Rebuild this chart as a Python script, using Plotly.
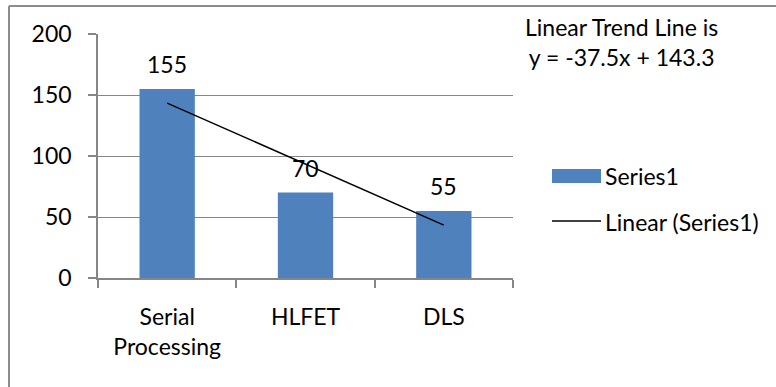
import numpy as np
import plotly.graph_objects as go

# Chart data
categories = ["Serial<br>Processing", "HLFET", "DLS"]
series1 = [155, 70, 55]
y_ticks = [0, 50, 100, 150, 200]
trend_caption = ["Linear Trend Line is", "y = -37.5x + 143.3"]

# Least-squares linear trend over the category index (1, 2, 3)
idx = np.arange(1, len(series1) + 1)
slope, intercept = np.polyfit(idx, series1, 1)
trend = slope * idx + intercept

W, H = 776, 387
PL, PR, PT, PB = 98, 513, 34, 278  # plot-area pixel box
FONT = "Lato"
FS = 23
GRAY = "#868686"
BLUE = "#4F81BD"


def px(x):
    return (x - PL) / (PR - PL)


def py(y):
    return (PB - y) / (PB - PT)


fig = go.Figure()
fig.add_trace(go.Bar(x=categories, y=series1, marker=dict(color=BLUE, line=dict(width=0)),
                     name="Series1", showlegend=False))
fig.add_trace(go.Scatter(x=categories, y=trend, mode="lines", line=dict(color="black", width=1.5),
                         name="Linear (Series1)", showlegend=False))

annotations = []
# value labels above bars
for c, v in zip(categories, series1):
    annotations.append(dict(x=c, y=v, xref="x", yref="y", text=str(v), showarrow=False,
                            yanchor="middle", yshift=25, font=dict(size=FS)))
# trend caption
annotations.append(dict(x=px(621), y=py(42), xref="paper", yref="paper",
                        text="<br>".join(trend_caption), showarrow=False,
                        xanchor="center", yanchor="middle", align="center",
                        font=dict(size=FS)))
# legend text
annotations.append(dict(x=px(603), y=py(176), xref="paper", yref="paper", text="Series1",
                        showarrow=False, xanchor="left", yanchor="middle", font=dict(size=FS)))
annotations.append(dict(x=px(603), y=py(222), xref="paper", yref="paper", text="Linear (Series1)",
                        showarrow=False, xanchor="left", yanchor="middle", font=dict(size=FS)))

shapes = [
    # legend swatches
    dict(type="rect", xref="paper", yref="paper", x0=px(552), x1=px(601), y0=py(169), y1=py(183),
         fillcolor=BLUE, line=dict(width=0)),
    dict(type="line", xref="paper", yref="paper", x0=px(552), x1=px(601), y0=py(221), y1=py(221),
         line=dict(color="black", width=1.5)),
    # chart frame (left and top edges)
    dict(type="line", xref="paper", yref="paper", x0=px(9), x1=px(9), y0=py(6), y1=py(390),
         line=dict(color="#8c8c8c", width=2)),
    dict(type="line", xref="paper", yref="paper", x0=px(9), x1=px(780), y0=py(6), y1=py(6),
         line=dict(color="#8c8c8c", width=2)),
]

fig.update_layout(
    width=W, height=H, autosize=False,
    margin=dict(l=PL, r=W - PR, t=PT, b=H - PB, pad=0),
    paper_bgcolor="white", plot_bgcolor="white",
    font=dict(family=FONT, size=FS, color="black"),
    bargap=0.6,
    showlegend=False,
    annotations=annotations,
    shapes=shapes,
    xaxis=dict(type="category", showline=True, linecolor=GRAY, linewidth=1.5,
               ticks="outside", tickson="boundaries", ticklen=8, tickcolor=GRAY, tickwidth=1.5,
               showgrid=False, ticklabelstandoff=18, tickfont=dict(size=FS)),
    yaxis=dict(range=[0, 200], tickvals=y_ticks, showline=True, linecolor=GRAY, linewidth=1.5,
               ticks="outside", ticklen=8, tickcolor=GRAY, tickwidth=1.5,
               showgrid=True, gridcolor=GRAY, gridwidth=1.2, zeroline=False,
               ticklabelstandoff=12, tickfont=dict(size=FS)),
)

fig.write_html("out.html")
